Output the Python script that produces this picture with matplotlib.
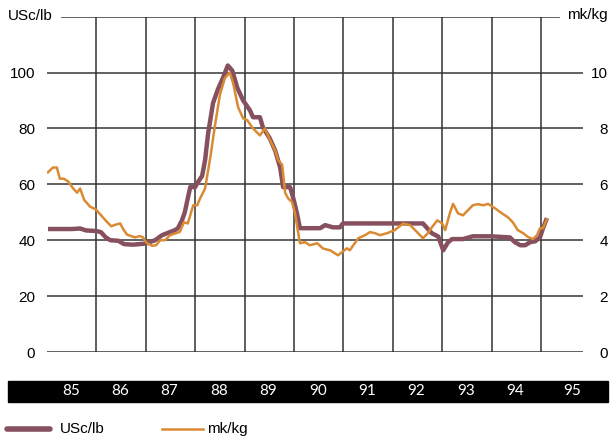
import matplotlib.pyplot as plt
from matplotlib.lines import Line2D
from matplotlib.patches import Rectangle
from matplotlib.transforms import blended_transform_factory

plt.rcParams['font.family'] = ['Liberation Sans', 'DejaVu Sans']

# USc/lb series (decimal year, value)
usc_x = [1985.02, 1985.26, 1985.51, 1985.67, 1985.79, 1985.99, 1986.09, 1986.19, 1986.28,
         1986.44, 1986.56, 1986.74, 1987.0, 1987.19, 1987.33, 1987.43, 1987.59, 1987.65,
         1987.73, 1987.79, 1987.85, 1987.9, 1988.0, 1988.04, 1988.14, 1988.2, 1988.26,
         1988.36, 1988.46, 1988.56, 1988.66, 1988.75, 1988.85, 1988.97, 1989.11, 1989.17,
         1989.31, 1989.37, 1989.51, 1989.62, 1989.72, 1989.78, 1989.92, 1989.98, 1990.06,
         1990.12, 1990.53, 1990.63, 1990.79, 1990.93, 1990.99, 1992.61, 1992.71, 1992.79,
         1992.92, 1993.02, 1993.12, 1993.2, 1993.42, 1993.62, 1993.97, 1994.37, 1994.47,
         1994.58, 1994.68, 1994.78, 1994.88, 1994.98, 1995.04, 1995.12]
usc_y = [44, 44, 44, 44.2, 43.5, 43.3, 42.9, 41, 40,
         39.8, 38.6, 38.4, 38.8, 40, 41.8, 42.5, 43.6, 44.3,
         47, 50, 55, 59, 59, 60.4, 63, 68.6, 78,
         89, 94, 98, 102.5, 100.7, 94.6, 90, 86.4, 84,
         84, 80.4, 76.4, 72, 66, 59, 59, 55.4, 49.6,
         44.3, 44.3, 45.4, 44.6, 44.6, 46, 46, 44, 42.5,
         41.3, 36.4, 39.3, 40.4, 40.4, 41.4, 41.4, 41, 39.3,
         38.2, 38.2, 39.3, 39.6, 41, 44.3, 47.9]

# mk/kg series (decimal year, value)
mk_x = [1985.02, 1985.12, 1985.2, 1985.26, 1985.34, 1985.43, 1985.53, 1985.61, 1985.67,
        1985.75, 1985.87, 1985.99, 1986.09, 1986.19, 1986.3, 1986.38, 1986.48, 1986.56,
        1986.62, 1986.78, 1986.88, 1986.94, 1987.02, 1987.13, 1987.21, 1987.29, 1987.39,
        1987.49, 1987.61, 1987.69, 1987.77, 1987.85, 1987.96, 1988.04, 1988.1, 1988.2,
        1988.3, 1988.4, 1988.5, 1988.6, 1988.7, 1988.77, 1988.87, 1988.97, 1989.05,
        1989.17, 1989.31, 1989.41, 1989.51, 1989.62, 1989.68, 1989.76, 1989.82, 1989.88,
        1989.96, 1990.02, 1990.12, 1990.22, 1990.32, 1990.47, 1990.59, 1990.73, 1990.89,
        1990.97, 1991.07, 1991.13, 1991.3, 1991.44, 1991.54, 1991.64, 1991.74, 1991.88,
        1992.04, 1992.21, 1992.35, 1992.49, 1992.61, 1992.71, 1992.79, 1992.9, 1993.0,
        1993.06, 1993.16, 1993.22, 1993.32, 1993.42, 1993.52, 1993.62, 1993.72, 1993.83,
        1993.93, 1994.07, 1994.21, 1994.33, 1994.43, 1994.53, 1994.64, 1994.74, 1994.84,
        1994.92, 1994.98, 1995.04, 1995.12]
mk_y = [6.43, 6.6, 6.6, 6.2, 6.2, 6.1, 5.85, 5.7, 5.85,
        5.45, 5.2, 5.1, 4.9, 4.7, 4.5, 4.55, 4.6, 4.35,
        4.2, 4.1, 4.15, 4.1, 3.9, 3.8, 3.82, 4.0, 4.0,
        4.18, 4.25, 4.3, 4.64, 4.6, 5.25, 5.25, 5.5, 5.85,
        6.9, 8.1, 9.2, 9.8, 10.0, 9.6, 8.75, 8.36, 8.3,
        8.0, 7.75, 8.0, 7.6, 7.2, 6.86, 6.7, 5.7, 5.5,
        5.36, 4.96, 3.89, 3.93, 3.82, 3.89, 3.7, 3.64, 3.46,
        3.57, 3.71, 3.64, 4.07, 4.18, 4.29, 4.25, 4.18, 4.25,
        4.36, 4.6, 4.54, 4.29, 4.07, 4.25, 4.46, 4.71, 4.6,
        4.36, 5.0, 5.3, 4.96, 4.89, 5.07, 5.25, 5.29, 5.25,
        5.3, 5.14, 4.96, 4.82, 4.64, 4.36, 4.25, 4.11, 4.04,
        4.18, 4.43, 4.43, 4.75]

years = ['85', '86', '87', '88', '89', '90', '91', '92', '93', '94', '95']
left_ticks = [0, 20, 40, 60, 80, 100]
right_ticks = [0, 2, 4, 6, 8, 10]

maroon = '#86505e'
orange = '#d98a33'
grid_c = '#555555'

fig = plt.figure(figsize=(6.11, 4.41), dpi=100)
ax = fig.add_axes([47 / 611, 89 / 441, 536 / 611, 335.4 / 441])
ax.set_xlim(1985, 1995.85)
ax.set_ylim(0, 120)
for s in ax.spines.values():
    s.set_visible(False)

# horizontal grid
for v in left_ticks:
    ax.axhline(v, color=grid_c, lw=1.3, zorder=1)
ax.axhline(120, xmin=0.028, xmax=0.955, color=grid_c, lw=1.3, zorder=1)
# vertical grid at year boundaries
for yr in range(1986, 1996):
    ax.plot([yr, yr], [0, 120], color='#333333', lw=1.1, zorder=1)

ax.set_xticks([])
ax.set_yticks(left_ticks)
ax.set_yticklabels([str(v) for v in left_ticks])
ax.tick_params(axis='y', length=0, pad=8.5, labelsize=11)

ax.plot(usc_x, usc_y, color=maroon, lw=3.2, solid_capstyle='butt', zorder=3)

ax2 = ax.twinx()
ax2.set_ylim(0, 12)
for s in ax2.spines.values():
    s.set_visible(False)
ax2.set_yticks(right_ticks)
ax2.set_yticklabels([str(v) for v in right_ticks])
ax2.tick_params(axis='y', length=0, pad=18, labelsize=11)
for lab in ax2.get_yticklabels():
    lab.set_horizontalalignment('right')
ax2.plot(mk_x, mk_y, color=orange, lw=1.8, zorder=4)

# axis unit labels
fig.text(8 / 611, 1 - 15.5 / 441, 'USc/lb', fontsize=11, va='center', ha='left')
fig.text(608 / 611, 1 - 15.5 / 441, 'mk/kg', fontsize=11, va='center', ha='right')

# black year band, drawn below the axes
band = Rectangle((8 / 611, 39 / 441), 600 / 611, 21 / 441,
                 transform=fig.transFigure, color='black', zorder=-1)
fig.add_artist(band)
tr = blended_transform_factory(ax.transData, fig.transFigure)
for i, y in enumerate(years):
    xpos = 1985 + i + (0.62 if y == '95' else 0.48)
    ax2.text(xpos, 1 - 391 / 441, y, transform=tr, color='white', fontsize=11,
             ha='center', va='center', family=['Lato', 'DejaVu Sans'], clip_on=False,
             zorder=10)

# legend
fig.add_artist(Line2D([7 / 611, 50 / 611], [1 - 429 / 441] * 2, color=maroon, lw=4,
                      solid_capstyle='round', transform=fig.transFigure))
fig.text(60 / 611, 1 - 429 / 441, 'USc/lb', fontsize=11, va='center', ha='left')
fig.add_artist(Line2D([162 / 611, 203 / 611], [1 - 429 / 441] * 2, color=orange, lw=1.8,
                      transform=fig.transFigure))
fig.text(207 / 611, 1 - 429 / 441, 'mk/kg', fontsize=11, va='center', ha='left')

fig.savefig('out.png', dpi=100)
